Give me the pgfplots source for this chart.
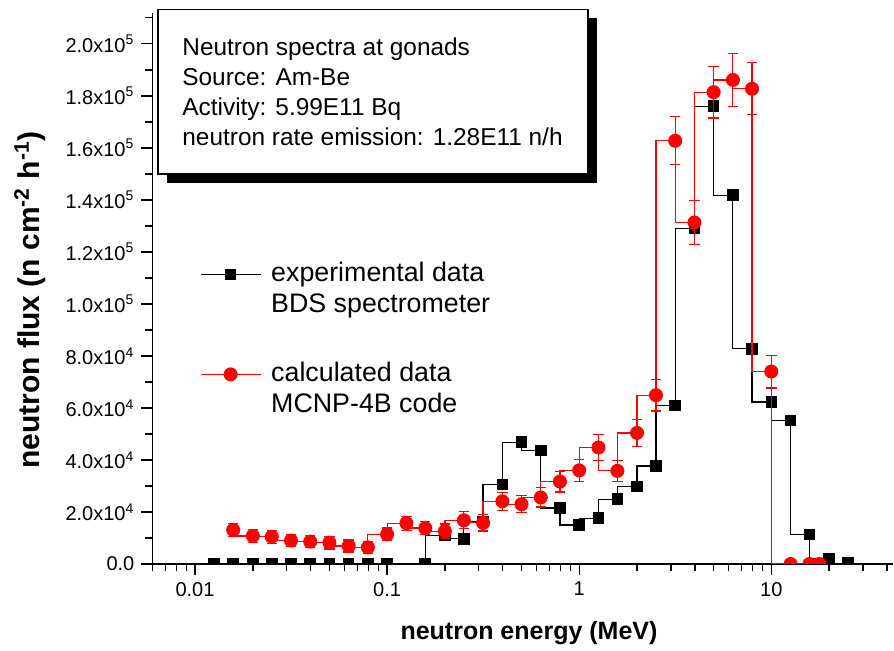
\documentclass[border=0pt]{standalone}
\usepackage{pgfplots}
\pgfplotsset{compat=1.18}
\usepackage{pgfplotstable}
\usepackage{fontspec}
\setmainfont{Liberation Sans}

% experimental data, BDS spectrometer
\pgfplotstableread{
x      y
0.0126 0
0.0158 0
0.0200 0
0.0251 0
0.0316 0
0.0398 0
0.0501 0
0.0631 0
0.0794 0
0.100  0
0.158  0
0.200  11000
0.251  9700
0.316  16300
0.398  30500
0.501  46800
0.631  43600
0.794  21500
1.00   15000
1.26   17600
1.58   24900
2.00   29800
2.51   37700
3.16   61000
3.98   129000
5.01   176000
6.31   141800
7.94   82700
10.0   62300
12.6   55100
15.8   11300
20.0   2000
25.1   300
}\expdata

% calculated data, MCNP-4B
\pgfplotstableread{
x      y       ey
0.0158 13100   2600
0.0200 10800   2600
0.0251 10500   2500
0.0316 9000    2400
0.0398 8600    2400
0.0501 8200    2400
0.0631 6900    2300
0.0794 6400    2300
0.100  11400   2400
0.126  15700   2700
0.158  13800   2600
0.200  12600   2800
0.251  16800   3300
0.316  15800   3100
0.398  24100   3500
0.501  23000   3300
0.631  25600   3700
0.794  31700   4000
1.00   36000   4200
1.26   44800   5000
1.58   35800   4100
2.00   50400   5300
2.51   64900   6100
3.16   162700  9200
3.98   131300  8500
5.01   181400  9900
6.31   186100  10300
7.94   182700  10000
10.0   74000   6300
12.6   0       0
15.8   0       0
17.8   0       0
}\calcdata

\newcommand\lstrut{\rule[-4pt]{0pt}{14pt}}

\begin{document}
\begin{tikzpicture}
\begin{axis}[
    scale only axis,
    width=370.3pt, height=275.7pt,
    xmode=log, xmin=0.006, xmax=43,
    ymin=0, ymax=212000,
    axis lines*=left,
    axis line style={line width=0.8pt},
    tick align=outside,
    major tick length=5.5pt, minor tick length=3.5pt,
    every tick/.style={black, line width=0.7pt},
    xtick={0.01,0.1,1,10},
    xticklabels={0.01,0.1,1,10},
    minor xtick={0.006,0.007,0.008,0.009,0.02,0.03,0.04,0.05,0.06,0.07,0.08,0.09,
                 0.2,0.3,0.4,0.5,0.6,0.7,0.8,0.9,2,3,4,5,6,7,8,9,20,30,40},
    ytick={0,20000,40000,60000,80000,100000,120000,140000,160000,180000,200000},
    yticklabels={0.0,
        2.0x10\textsuperscript{4}, 4.0x10\textsuperscript{4},
        6.0x10\textsuperscript{4}, 8.0x10\textsuperscript{4},
        1.0x10\textsuperscript{5}, 1.2x10\textsuperscript{5},
        1.4x10\textsuperscript{5}, 1.6x10\textsuperscript{5},
        1.8x10\textsuperscript{5}, 2.0x10\textsuperscript{5}},
    minor ytick={10000,30000,50000,70000,90000,110000,130000,150000,170000,190000,210000},
    scaled y ticks=false,
    tick label style={font=\fontsize{10}{12}\selectfont},
    xlabel={neutron energy (MeV)},
    ylabel={neutron flux (n cm\textsuperscript{-2} h\textsuperscript{-1})},
    xlabel style={font=\fontsize{12.5}{15}\selectfont\bfseries,
        at={(rel axis cs:0.5085,-0.1378)}, anchor=base},
    ylabel style={font=\fontsize{15}{18}\selectfont\bfseries,
        at={(rel axis cs:-0.1653,0.479)}, anchor=center},
    clip marker paths=true,
    legend style={draw=none, fill=none, at={(rel axis cs:0.0643,0.549)},
        anchor=north west, inner sep=0pt, outer sep=0pt, column sep=5pt, row sep=4pt,
        nodes={inner sep=0pt, font=\fontsize{13.4}{16}\selectfont}},
    legend cell align=left,
    legend image code/.code={
        \draw[#1, sharp plot] (0pt,-0.8pt) -- (30pt,-0.8pt);
        \draw[#1, only marks] plot coordinates {(15pt,-0.8pt)};
    },
]
\addplot[black, line width=0.6pt, const plot mark right,
    mark=square*, mark size=2.6pt, mark options={solid}]
    table[x=x, y=y] {\expdata};
\addlegendentry{\lstrut experimental data}
\addlegendimage{empty legend}
\addlegendentry{\lstrut BDS spectrometer}
\addlegendimage{empty legend}
\addlegendentry{\rule[-4pt]{0pt}{17.5pt}}

\addplot[red, line width=0.6pt, const plot mark right,
    mark=*, mark size=3.2pt, mark options={solid, fill=red},
    error bars/.cd, y dir=both, y explicit,
    error bar style={red, line width=0.6pt},
    error mark options={rotate=90, mark size=2.6pt, red, line width=0.6pt}]
    table[x=x, y=y, y error=ey] {\calcdata};
\addlegendentry{\lstrut calculated data}
\addlegendimage{empty legend}
\addlegendentry{\lstrut MCNP-4B code}
\end{axis}

\pgfresetboundingbox
\path[use as bounding box, shift={(current axis.south west)}, x=0.5pt, y=0.5pt]
    (-152.4,-87) rectangle (741.6,564);

\begin{scope}[shift={(current axis.south west)}, x=0.5pt, y=0.5pt]
  \fill[black] (14.6,381) rectangle (444.6,545.7);
  \draw[black, fill=white, line width=0.6pt] (5.6,390) rectangle (435.6,554.7);
  \begin{scope}[every node/.style={anchor=base west, inner sep=0pt, font=\fontsize{12.2}{14}\selectfont}]
    \node at (29.6,508) {Neutron spectra at gonads};
    \node at (29.6,478) {Source: Am-Be};
    \node at (29.6,448.5) {Activity: 5.99E11 Bq};
    \node at (29.6,418.5) {neutron rate emission: 1.28E11 n/h};
  \end{scope}
\end{scope}
\end{tikzpicture}
\end{document}
